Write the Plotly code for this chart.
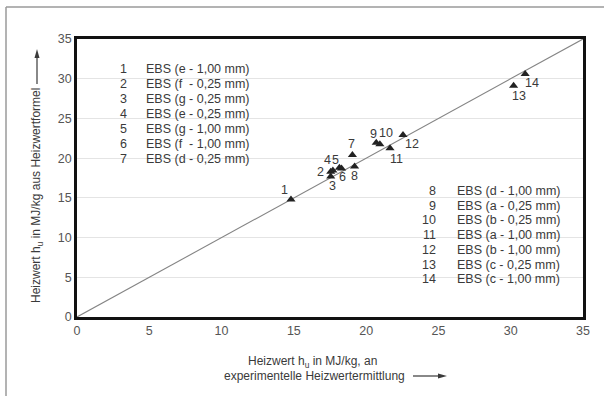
import plotly.graph_objects as go

# ---- data ----
point_ids = [1, 2, 3, 4, 5, 6, 7, 8, 9, 10, 11, 12, 13, 14]
x_exp = [14.8, 17.55, 17.55, 17.7, 18.15, 18.3, 19.05, 19.2, 20.7, 20.95, 21.65, 22.55, 30.2, 31.0]
y_formel = [14.8, 18.3, 17.7, 18.45, 18.8, 18.7, 20.4, 18.95, 21.95, 21.75, 21.25, 22.9, 29.1, 30.6]
sample_names = [
    "EBS (e - 1,00 mm)", "EBS (f  - 0,25 mm)", "EBS (g - 0,25 mm)", "EBS (e - 0,25 mm)",
    "EBS (g - 1,00 mm)", "EBS (f  - 1,00 mm)", "EBS (d - 0,25 mm)", "EBS (d - 1,00 mm)",
    "EBS (a - 0,25 mm)", "EBS (b - 0,25 mm)", "EBS (a - 1,00 mm)", "EBS (b - 1,00 mm)",
    "EBS (c - 0,25 mm)", "EBS (c - 1,00 mm)",
]
tick_vals = [0, 5, 10, 15, 20, 25, 30, 35]
diag = [0, 35]

# ---- layout helpers (style, not data) ----
W, H = 604, 396
L, R, T, B = 77, 21, 39, 79
PW, PH = W - L - R, H - T - B
def px(x): return (x - L) / PW
def py(y): return (H - B - y) / PH

label_shift = [(-6, 9), (-10, 0), (2, -10), (-5, 10), (-4, 8), (1, -9), (-1, 11),
               (0, -10), (-3, 9), (6, 11), (6, -11), (9, -9), (5, -10), (7, -9)]

FONT = "Liberation Sans, Arial, sans-serif"
TXT = "#3a3a3a"
FS = 12.5

fig = go.Figure()
fig.add_trace(go.Scatter(x=diag, y=diag, mode="lines",
                         line=dict(color="#858585", width=1.1), hoverinfo="skip"))
fig.add_trace(go.Scatter(x=x_exp, y=y_formel, mode="markers",
                         marker=dict(symbol="triangle-up", size=8, color="#222222"),
                         text=sample_names))

ann = []
for pid, xv, yv, (dx, dy) in zip(point_ids, x_exp, y_formel, label_shift):
    ann.append(dict(x=xv, y=yv, xref="x", yref="y", text=str(pid), showarrow=False,
                    xshift=dx, yshift=dy, font=dict(size=FS, color=TXT, family=FONT)))

# legend blocks
for i in range(7):
    yy = 69 + i * 15
    ann.append(dict(x=px(129), y=py(yy), xref="paper", yref="paper", text=str(point_ids[i]),
                    showarrow=False, xanchor="right", yanchor="middle",
                    font=dict(size=FS, color=TXT, family=FONT)))
    ann.append(dict(x=px(144), y=py(yy), xref="paper", yref="paper", text=sample_names[i],
                    showarrow=False, xanchor="left", yanchor="middle",
                    font=dict(size=FS, color=TXT, family=FONT)))
for j in range(7, 14):
    yy = 191 + (j - 7) * 14.7
    ann.append(dict(x=px(438), y=py(yy), xref="paper", yref="paper", text=str(point_ids[j]),
                    showarrow=False, xanchor="right", yanchor="middle",
                    font=dict(size=FS, color=TXT, family=FONT)))
    ann.append(dict(x=px(455), y=py(yy), xref="paper", yref="paper", text=sample_names[j],
                    showarrow=False, xanchor="left", yanchor="middle",
                    font=dict(size=FS, color=TXT, family=FONT)))

# axis titles
ann.append(dict(x=px(37), y=py(196), xref="paper", yref="paper",
                text="Heizwert h<sub>u</sub> in MJ/kg aus Heizwertformel", textangle=-90,
                showarrow=False, xanchor="center", yanchor="middle",
                font=dict(size=12, color=TXT, family=FONT)))
ann.append(dict(x=px(312), y=py(362), xref="paper", yref="paper",
                text="Heizwert h<sub>u</sub> in MJ/kg, an",
                showarrow=False, xanchor="center", yanchor="middle",
                font=dict(size=12, color=TXT, family=FONT)))
ann.append(dict(x=px(314), y=py(376), xref="paper", yref="paper",
                text="experimentelle Heizwertermittlung",
                showarrow=False, xanchor="center", yanchor="middle",
                font=dict(size=12, color=TXT, family=FONT)))

def tri(p):
    return "M " + " L ".join(f"{px(a):.5f},{py(b):.5f}" for a, b in p) + " Z"

shapes = [
    dict(type="rect", xref="paper", yref="paper", x0=px(97), x1=px(267), y0=py(170), y1=py(60),
         fillcolor="white", line=dict(width=0), layer="between"),
    dict(type="rect", xref="paper", yref="paper", x0=px(412), x1=px(572), y0=py(290), y1=py(182),
         fillcolor="white", line=dict(width=0), layer="between"),
    # frame of the scanned page
    dict(type="line", xref="paper", yref="paper", x0=px(6), x1=px(604), y0=py(7), y1=py(7),
         line=dict(color="#9a9a9a", width=1.5)),
    dict(type="line", xref="paper", yref="paper", x0=px(6), x1=px(6), y0=py(7), y1=py(396),
         line=dict(color="#9a9a9a", width=1.5)),
    # axis-title arrows
    dict(type="line", xref="paper", yref="paper", x0=px(37), x1=px(37), y0=py(84), y1=py(56),
         line=dict(color=TXT, width=1.2)),
    dict(type="path", xref="paper", yref="paper", path=tri([(37, 49), (34.5, 58), (39.5, 58)]),
         fillcolor=TXT, line=dict(width=0)),
    dict(type="line", xref="paper", yref="paper", x0=px(413), x1=px(440), y0=py(376), y1=py(376),
         line=dict(color=TXT, width=1.2)),
    dict(type="path", xref="paper", yref="paper", path=tri([(447, 376), (438, 373.5), (438, 378.5)]),
         fillcolor=TXT, line=dict(width=0)),
]

axis_common = dict(range=[0, 35], tickvals=tick_vals, showline=True, mirror=True,
                   linecolor="#111111", linewidth=2.5, zeroline=False, ticks="",
                   tickfont=dict(size=12.5, color="#555555", family=FONT))
fig.update_layout(
    width=W, height=H, margin=dict(l=L, r=R, t=T, b=B),
    paper_bgcolor="white", plot_bgcolor="white", showlegend=False,
    xaxis=dict(**axis_common, showgrid=False),
    yaxis=dict(**axis_common, showgrid=True, gridcolor="#e4e4e4", gridwidth=1),
    annotations=ann, shapes=shapes,
)
fig.write_html("out.html", config={"displayModeBar": False},
               post_script="document.body.style.margin='0';")
